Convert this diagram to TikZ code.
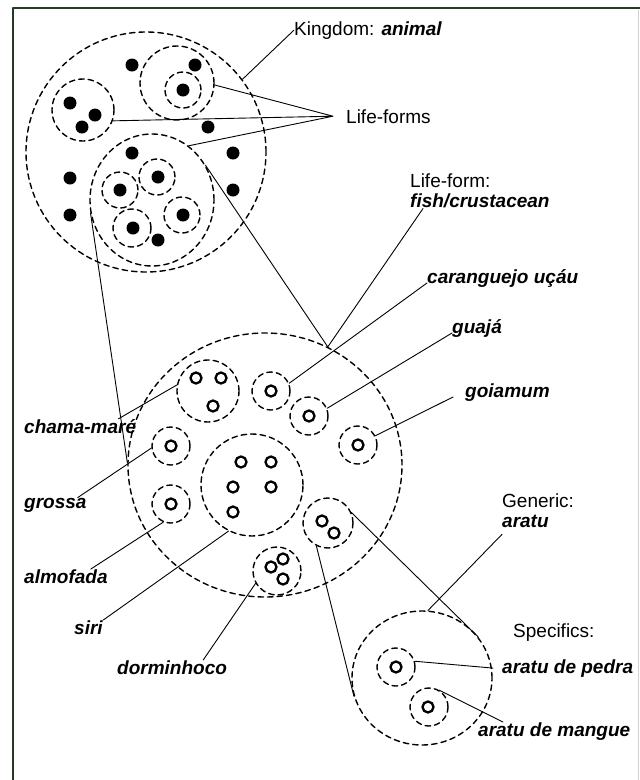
\documentclass[tikz,border=0pt]{standalone}
\usepackage{fontspec}
\setmainfont{Liberation Sans}
\usetikzlibrary{shapes.geometric,positioning}
\definecolor{framegreen}{RGB}{38,58,40}
\newcommand{\bitext}[1]{\textbf{\textit{#1}}}

\begin{document}
\begin{tikzpicture}[line join=round, line cap=round, x=1pt, y=-1pt]
	\tikzset{every node/.style={font=\fontsize{19}{20}\selectfont},
		grp/.style={circle, draw, dash pattern=on 5.5pt off 4pt, line width=1.4pt, inner sep=0pt, minimum size=#1pt},
		grpe/.style 2 args={ellipse, draw, dash pattern=on 5.5pt off 4pt, line width=1.4pt, inner sep=0pt, minimum width=#1pt, minimum height=#2pt},
		bdot/.style={circle, fill, inner sep=0pt, minimum size=13pt},
		odot/.style={circle, draw, line width=2.3pt, inner sep=0pt, minimum size=11pt},
		lbl/.style={anchor=base west, inner sep=0pt},
		conn/.style={line width=0.9pt}}
	\useasboundingbox (0,0) rectangle (640,780);
	\draw[line width=2pt, framegreen] (13,780) -- (13,8) -- (640,8);
	\draw[gray!35] (638,10) -- (638,780);
	\node[grp=240] (king) at (146,152) {};
	\node[grpe={124}{132}] (lfc) at (152,200) {};
	\node[grpe={274}{264}] (fish) at (265,465) {};
	\node[grpe={140}{134}] (gen) at (422,678) {};
	\foreach \n/\x/\y/\d in {lfa/177/83/74, lfa1/183/90/36, lfb/83/110/62,
		lfc1/120/190/36, lfc2/157/177/36, lfc3/132/228/38, lfc4/182/215/36,
		chama/208/391/62, car/271/391/38, guaja/309/416/38, goia/358/445/38,
		grossa/171/446/38, almo/171/504/38, siri/252/485/102, aratu/328/523/50,
		dormi/277/571/48, pedra/396/667/38, mangue/429/707/38}
	\node[grp=\d] (\n) at (\x,\y) {};
	\foreach \x/\y [count=\i] in {132/65, 195/65, 183/90, 70/103, 95/115, 82/127,
		208/127, 132/153, 233/153, 70/178, 158/177, 120/190, 233/190, 70/215,
		183/215, 133/228, 158/240}
	\node[bdot] (k\i) at (\x,\y) {};
	\foreach \x/\y [count=\i] in {196/378, 221/378, 213/406, 271/391, 309/416,
		358/445, 171/446, 171/504, 241/462, 271/462, 233/487, 271/487, 233/512,
		322/521, 334/533, 271/567, 283/559, 283/579, 396/667, 428/707}
	\node[odot] (s\i) at (\x,\y) {};
	\node[lbl] (kinglbl) at (294,35) {Kingdom: \bitext{animal}};
	\node[lbl] (lflbl) at (346,123) {Life-forms};
	\node[inner sep=0pt, anchor=north west, align=left] (fishlbl) at (410,174) {Life-form:\\\bitext{fish/crustacean}};
	\node[lbl] (carlbl) at (427,283) {\bitext{caranguejo uçáu}};
	\node[lbl] (guajalbl) at (452,333) {\bitext{guajá}};
	\node[lbl] (goialbl) at (465,397) {\bitext{goiamum}};
	\node[inner sep=0pt, anchor=north west, align=left] (genlbl) at (502,494) {Generic:\\\bitext{aratu}};
	\node[lbl] (speclbl) at (513,637) {Specifics:};
	\node[lbl] (pedralbl) at (502,673) {\bitext{aratu de pedra}};
	\node[lbl] (manglbl) at (478,736) {\bitext{aratu de mangue}};
	\node[lbl] (chamalbl) at (24,433) {\bitext{chama-maré}};
	\node[lbl] (grossalbl) at (24,508) {\bitext{grossa}};
	\node[lbl] (almolbl) at (24,583) {\bitext{almofada}};
	\node[lbl] (sirilbl) at (74,634) {\bitext{siri}};
	\node[lbl] (dormilbl) at (117,674) {\bitext{dorminhoco}};
	\coordinate[left=13pt of lflbl.west] (lfjoin);
	\draw[conn] (king.37) -- (kinglbl.west);
	\draw[conn] (lfa.-3) -- (lfjoin) -- (lfb.-20) (lfjoin) -- (lfc.56);
	\draw[conn] (lfc.33) -- (fish.62) -- ([xshift=13pt]fishlbl.south west);
	\draw[conn] (lfc.192) -- (fish.179);
	\draw[conn] (car.23) -- (carlbl.base west);
	\draw[conn] (guaja.23) -- (guajalbl.base west);
	\draw[conn] (goia.28) -- ([xshift=-12pt]goialbl.base west);
	\draw[conn] (chama.169) -- ([xshift=-18pt]chamalbl.north east);
	\draw[conn] (grossa.186) -- ([xshift=-9pt]grossalbl.north east);
	\draw[conn] (almo.247) -- ([xshift=-17pt]almolbl.north east);
	\draw[conn] (siri.243) -- (sirilbl.north east);
	\draw[conn] (dormi.210) -- ([xshift=-24pt]dormilbl.north east);
	\draw[conn] (aratu.24) -- (gen.36);
	\draw[conn] (aratu.243) -- (gen.195);
	\draw[conn] (gen.85) -- ([yshift=-6pt]genlbl.south west);
	\draw[conn] (pedra.17) -- ([xshift=-9pt]pedralbl.west);
	\draw[conn] (mangue.59) -- ([xshift=25pt]manglbl.north west);
\end{tikzpicture}
\end{document}
